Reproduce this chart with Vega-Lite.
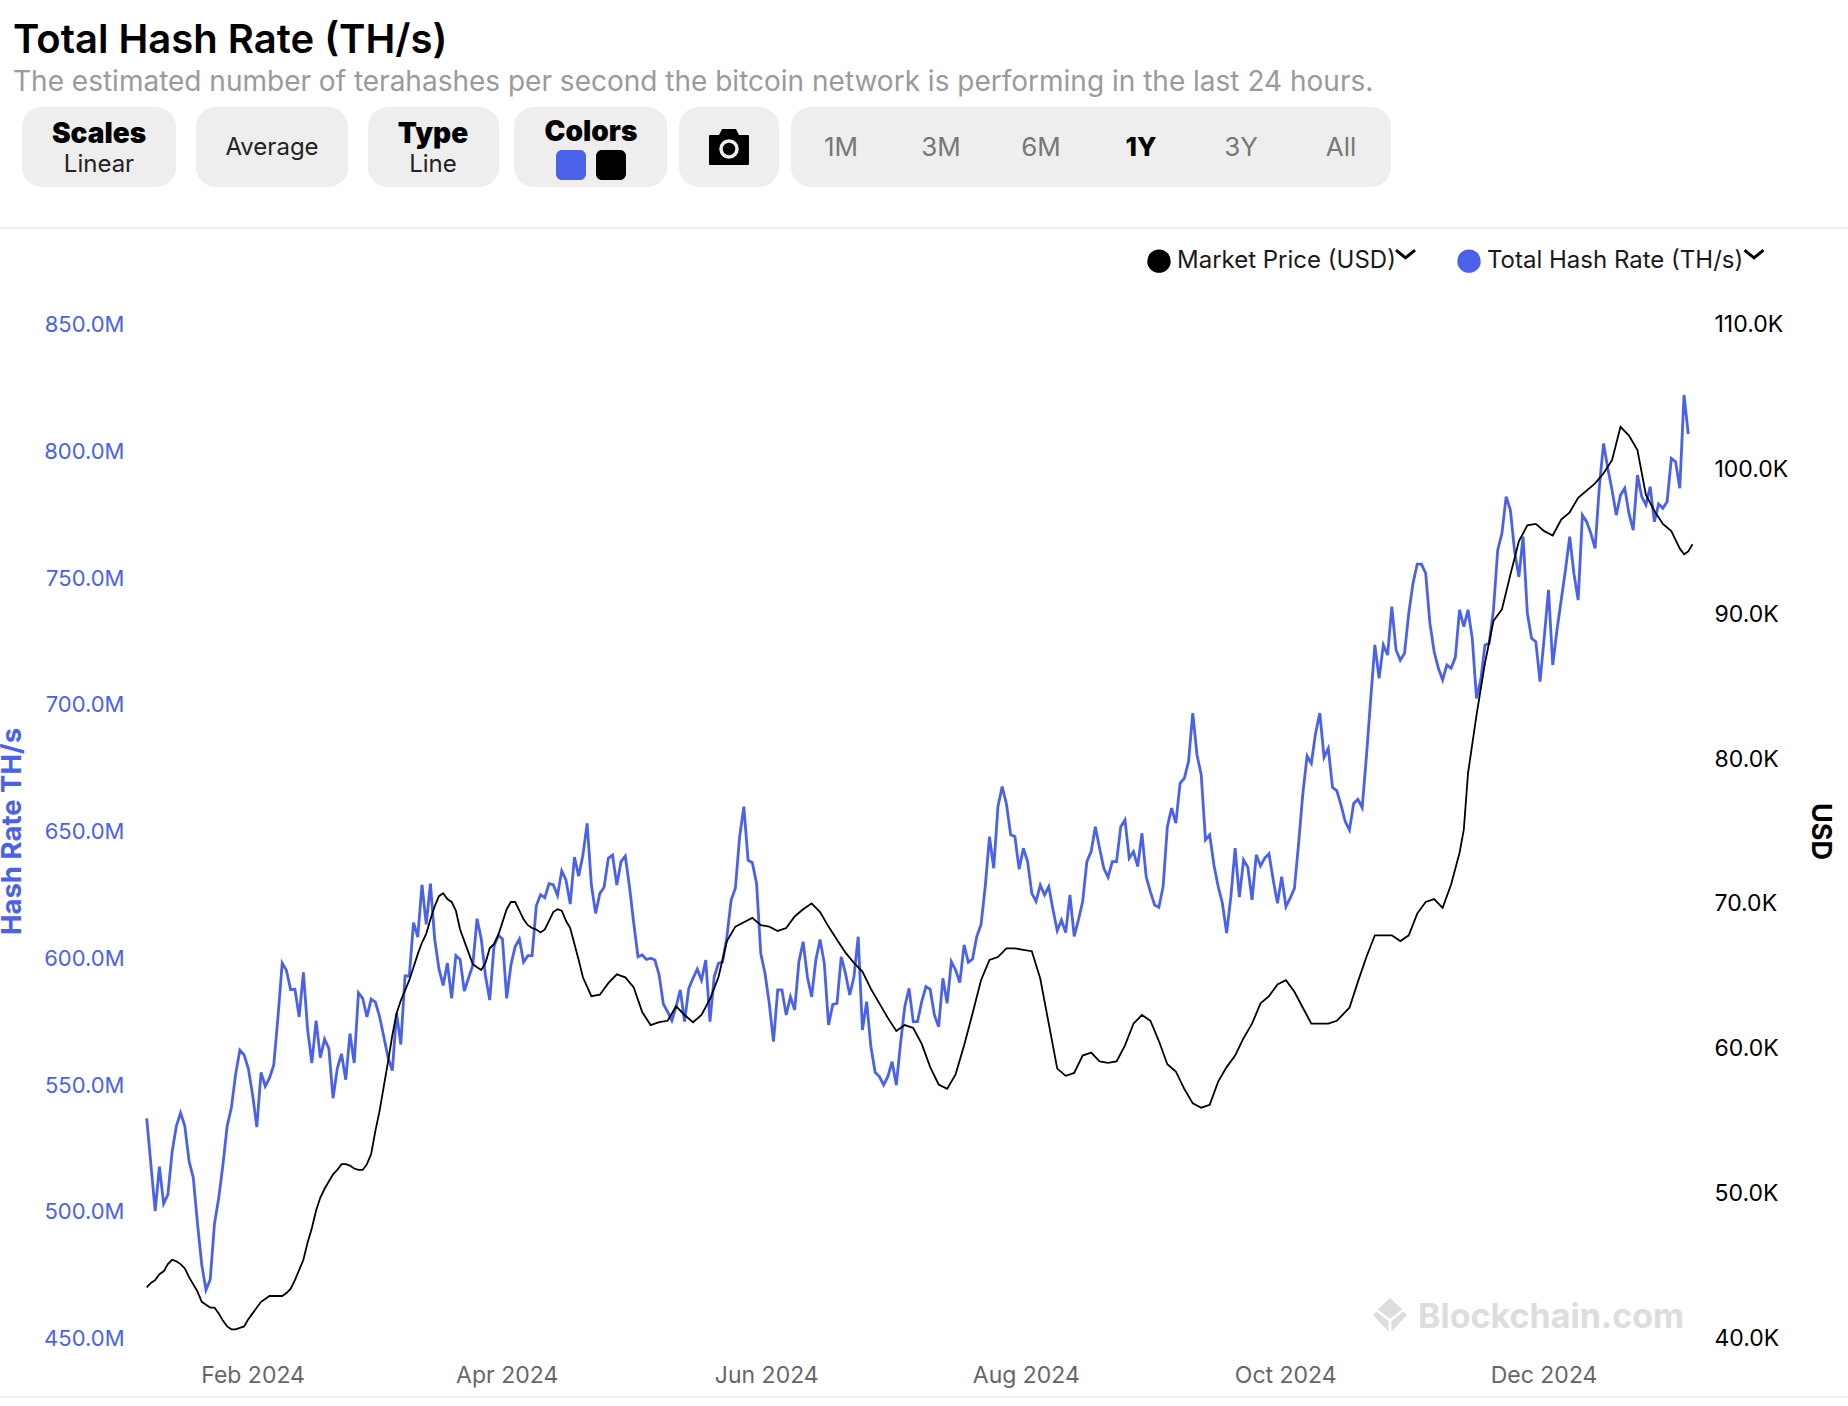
{"$schema":"https://vega.github.io/schema/vega-lite/v6.json","width":1848,"height":1406,"autosize":{"type":"none"},"padding":0,"background":"#ffffff",
"title":{"text":"Total Hash Rate (TH/s)","subtitle":"The estimated number of terahashes per second the bitcoin network is performing in the last 24 hours.","anchor":"start","frame":"group","dx":13,"offset":-97,"font":"Inter","fontSize":40,"fontWeight":600,"color":"#000000","subtitleFont":"Inter","subtitleFontSize":28,"subtitleColor":"#9a9a9a","subtitlePadding":8},
"config":{"view":{"stroke":null},"axis":{"grid":false,"domain":false,"ticks":false,"labelFont":"Inter","labelFontSize":22,"labelOverlap":false,"labelBound":false,"labelFlush":false,"labelPadding":0}},
"resolve":{"scale":{"x":"independent","y":"independent"},"axis":{"x":"independent","y":"independent"}},
"datasets":{"hashRate":[
{"date":"2024-01-07","hashRate":536600000},{"date":"2024-01-08","hashRate":518300000},{"date":"2024-01-09","hashRate":500100000},{"date":"2024-01-10","hashRate":517600000},{"date":"2024-01-11","hashRate":503000000},{"date":"2024-01-12","hashRate":506600000},{"date":"2024-01-13","hashRate":523400000},{"date":"2024-01-14","hashRate":533600000},{"date":"2024-01-15","hashRate":538800000},{"date":"2024-01-16","hashRate":533600000},{"date":"2024-01-17","hashRate":519800000},{"date":"2024-01-18","hashRate":513200000},{"date":"2024-01-19","hashRate":495000000},{"date":"2024-01-20","hashRate":478900000},{"date":"2024-01-21","hashRate":469000000},{"date":"2024-01-22","hashRate":473100000},{"date":"2024-01-23","hashRate":495000000},{"date":"2024-01-24","hashRate":505200000},{"date":"2024-01-25","hashRate":518300000},{"date":"2024-01-26","hashRate":533600000},{"date":"2024-01-27","hashRate":540900000},{"date":"2024-01-28","hashRate":554100000},{"date":"2024-01-29","hashRate":563600000},{"date":"2024-01-30","hashRate":561700000},{"date":"2024-01-31","hashRate":556300000},
{"date":"2024-02-01","hashRate":546000000},{"date":"2024-02-02","hashRate":533200000},{"date":"2024-02-03","hashRate":554800000},{"date":"2024-02-04","hashRate":549300000},{"date":"2024-02-05","hashRate":552600000},{"date":"2024-02-06","hashRate":557700000},{"date":"2024-02-07","hashRate":576700000},{"date":"2024-02-08","hashRate":597900000},{"date":"2024-02-09","hashRate":595000000},{"date":"2024-02-10","hashRate":587400000},{"date":"2024-02-11","hashRate":587600000},{"date":"2024-02-12","hashRate":576700000},{"date":"2024-02-13","hashRate":594200000},{"date":"2024-02-14","hashRate":571600000},{"date":"2024-02-15","hashRate":558500000},{"date":"2024-02-16","hashRate":575200000},{"date":"2024-02-17","hashRate":560600000},{"date":"2024-02-18","hashRate":567900000},{"date":"2024-02-19","hashRate":564300000},{"date":"2024-02-20","hashRate":544600000},{"date":"2024-02-21","hashRate":556300000},{"date":"2024-02-22","hashRate":562100000},{"date":"2024-02-23","hashRate":551900000},{"date":"2024-02-24","hashRate":570100000},{"date":"2024-02-25","hashRate":558500000},{"date":"2024-02-26","hashRate":586200000},{"date":"2024-02-27","hashRate":584000000},{"date":"2024-02-28","hashRate":576700000},{"date":"2024-02-29","hashRate":583700000},
{"date":"2024-03-01","hashRate":582500000},{"date":"2024-03-02","hashRate":576700000},{"date":"2024-03-03","hashRate":568700000},{"date":"2024-03-04","hashRate":560600000},{"date":"2024-03-05","hashRate":555500000},{"date":"2024-03-06","hashRate":578200000},{"date":"2024-03-07","hashRate":565800000},{"date":"2024-03-08","hashRate":592800000},{"date":"2024-03-09","hashRate":592800000},{"date":"2024-03-10","hashRate":613900000},{"date":"2024-03-11","hashRate":608100000},{"date":"2024-03-12","hashRate":628800000},{"date":"2024-03-13","hashRate":613200000},{"date":"2024-03-14","hashRate":629200000},{"date":"2024-03-15","hashRate":607400000},{"date":"2024-03-16","hashRate":595700000},{"date":"2024-03-17","hashRate":589100000},{"date":"2024-03-18","hashRate":597900000},{"date":"2024-03-19","hashRate":584000000},{"date":"2024-03-20","hashRate":600800000},{"date":"2024-03-21","hashRate":599300000},{"date":"2024-03-22","hashRate":586900000},{"date":"2024-03-23","hashRate":592000000},{"date":"2024-03-24","hashRate":597100000},{"date":"2024-03-25","hashRate":615400000},{"date":"2024-03-26","hashRate":607400000},{"date":"2024-03-27","hashRate":592800000},{"date":"2024-03-28","hashRate":583300000},{"date":"2024-03-29","hashRate":604400000},{"date":"2024-03-30","hashRate":608800000},{"date":"2024-03-31","hashRate":607400000},
{"date":"2024-04-01","hashRate":584000000},{"date":"2024-04-02","hashRate":597100000},{"date":"2024-04-03","hashRate":604400000},{"date":"2024-04-04","hashRate":607400000},{"date":"2024-04-05","hashRate":598300000},{"date":"2024-04-06","hashRate":600800000},{"date":"2024-04-07","hashRate":600800000},{"date":"2024-04-08","hashRate":620500000},{"date":"2024-04-09","hashRate":624900000},{"date":"2024-04-10","hashRate":623700000},{"date":"2024-04-11","hashRate":629200000},{"date":"2024-04-12","hashRate":628800000},{"date":"2024-04-13","hashRate":624600000},{"date":"2024-04-14","hashRate":634300000},{"date":"2024-04-15","hashRate":630700000},{"date":"2024-04-16","hashRate":621200000},{"date":"2024-04-17","hashRate":639700000},{"date":"2024-04-18","hashRate":632200000},{"date":"2024-04-19","hashRate":640500000},{"date":"2024-04-20","hashRate":653000000},{"date":"2024-04-21","hashRate":628700000},{"date":"2024-04-22","hashRate":617500000},{"date":"2024-04-23","hashRate":625400000},{"date":"2024-04-24","hashRate":627800000},{"date":"2024-04-25","hashRate":639200000},{"date":"2024-04-26","hashRate":640500000},{"date":"2024-04-27","hashRate":628700000},{"date":"2024-04-28","hashRate":637900000},{"date":"2024-04-29","hashRate":640100000},{"date":"2024-04-30","hashRate":628000000},
{"date":"2024-05-01","hashRate":613600000},{"date":"2024-05-02","hashRate":600400000},{"date":"2024-05-03","hashRate":601100000},{"date":"2024-05-04","hashRate":599300000},{"date":"2024-05-05","hashRate":599800000},{"date":"2024-05-06","hashRate":599100000},{"date":"2024-05-07","hashRate":593200000},{"date":"2024-05-08","hashRate":581700000},{"date":"2024-05-09","hashRate":578700000},{"date":"2024-05-10","hashRate":575200000},{"date":"2024-05-11","hashRate":580700000},{"date":"2024-05-12","hashRate":587300000},{"date":"2024-05-13","hashRate":574800000},{"date":"2024-05-14","hashRate":587900000},{"date":"2024-05-15","hashRate":591900000},{"date":"2024-05-16","hashRate":595500000},{"date":"2024-05-17","hashRate":591200000},{"date":"2024-05-18","hashRate":599100000},{"date":"2024-05-19","hashRate":574800000},{"date":"2024-05-20","hashRate":592500000},{"date":"2024-05-21","hashRate":597800000},{"date":"2024-05-22","hashRate":598400000},{"date":"2024-05-23","hashRate":608300000},{"date":"2024-05-24","hashRate":622800000},{"date":"2024-05-25","hashRate":627400000},{"date":"2024-05-26","hashRate":647700000},{"date":"2024-05-27","hashRate":659600000},{"date":"2024-05-28","hashRate":638500000},{"date":"2024-05-29","hashRate":637500000},{"date":"2024-05-30","hashRate":629300000},{"date":"2024-05-31","hashRate":601700000},
{"date":"2024-06-01","hashRate":593800000},{"date":"2024-06-02","hashRate":582000000},{"date":"2024-06-03","hashRate":566900000},{"date":"2024-06-04","hashRate":587300000},{"date":"2024-06-05","hashRate":587300000},{"date":"2024-06-06","hashRate":577400000},{"date":"2024-06-07","hashRate":584600000},{"date":"2024-06-08","hashRate":579400000},{"date":"2024-06-09","hashRate":598400000},{"date":"2024-06-10","hashRate":606300000},{"date":"2024-06-11","hashRate":592500000},{"date":"2024-06-12","hashRate":584600000},{"date":"2024-06-13","hashRate":599100000},{"date":"2024-06-14","hashRate":607200000},{"date":"2024-06-15","hashRate":597800000},{"date":"2024-06-16","hashRate":573500000},{"date":"2024-06-17","hashRate":581600000},{"date":"2024-06-18","hashRate":582000000},{"date":"2024-06-19","hashRate":600400000},{"date":"2024-06-20","hashRate":593800000},{"date":"2024-06-21","hashRate":585300000},{"date":"2024-06-22","hashRate":592500000},{"date":"2024-06-23","hashRate":608300000},{"date":"2024-06-24","hashRate":571500000},{"date":"2024-06-25","hashRate":582700000},{"date":"2024-06-26","hashRate":564900000},{"date":"2024-06-27","hashRate":554800000},{"date":"2024-06-28","hashRate":553100000},{"date":"2024-06-29","hashRate":549800000},{"date":"2024-06-30","hashRate":553100000},
{"date":"2024-07-01","hashRate":559000000},{"date":"2024-07-02","hashRate":549800000},{"date":"2024-07-03","hashRate":566200000},{"date":"2024-07-04","hashRate":580700000},{"date":"2024-07-05","hashRate":587900000},{"date":"2024-07-06","hashRate":574800000},{"date":"2024-07-07","hashRate":574800000},{"date":"2024-07-08","hashRate":582700000},{"date":"2024-07-09","hashRate":588600000},{"date":"2024-07-10","hashRate":587500000},{"date":"2024-07-11","hashRate":577400000},{"date":"2024-07-12","hashRate":572800000},{"date":"2024-07-13","hashRate":591900000},{"date":"2024-07-14","hashRate":582000000},{"date":"2024-07-15","hashRate":598500000},{"date":"2024-07-16","hashRate":595200000},{"date":"2024-07-17","hashRate":590200000},{"date":"2024-07-18","hashRate":605100000},{"date":"2024-07-19","hashRate":598200000},{"date":"2024-07-20","hashRate":599500000},{"date":"2024-07-21","hashRate":608400000},{"date":"2024-07-22","hashRate":613000000},{"date":"2024-07-23","hashRate":628100000},{"date":"2024-07-24","hashRate":647800000},{"date":"2024-07-25","hashRate":635300000},{"date":"2024-07-26","hashRate":659600000},{"date":"2024-07-27","hashRate":667500000},{"date":"2024-07-28","hashRate":660700000},{"date":"2024-07-29","hashRate":648500000},{"date":"2024-07-30","hashRate":647800000},{"date":"2024-07-31","hashRate":634900000},
{"date":"2024-08-01","hashRate":643200000},{"date":"2024-08-02","hashRate":637900000},{"date":"2024-08-03","hashRate":625400000},{"date":"2024-08-04","hashRate":622200000},{"date":"2024-08-05","hashRate":628700000},{"date":"2024-08-06","hashRate":624800000},{"date":"2024-08-07","hashRate":628100000},{"date":"2024-08-08","hashRate":618900000},{"date":"2024-08-09","hashRate":610700000},{"date":"2024-08-10","hashRate":614900000},{"date":"2024-08-11","hashRate":609900000},{"date":"2024-08-12","hashRate":624800000},{"date":"2024-08-13","hashRate":608400000},{"date":"2024-08-14","hashRate":614900000},{"date":"2024-08-15","hashRate":622200000},{"date":"2024-08-16","hashRate":637900000},{"date":"2024-08-17","hashRate":641900000},{"date":"2024-08-18","hashRate":651700000},{"date":"2024-08-19","hashRate":643200000},{"date":"2024-08-20","hashRate":635300000},{"date":"2024-08-21","hashRate":631800000},{"date":"2024-08-22","hashRate":637900000},{"date":"2024-08-23","hashRate":637900000},{"date":"2024-08-24","hashRate":651700000},{"date":"2024-08-25","hashRate":654400000},{"date":"2024-08-26","hashRate":639300000},{"date":"2024-08-27","hashRate":641900000},{"date":"2024-08-28","hashRate":636000000},{"date":"2024-08-29","hashRate":649100000},{"date":"2024-08-30","hashRate":632000000},{"date":"2024-08-31","hashRate":626000000},
{"date":"2024-09-01","hashRate":620800000},{"date":"2024-09-02","hashRate":619900000},{"date":"2024-09-03","hashRate":628100000},{"date":"2024-09-04","hashRate":651700000},{"date":"2024-09-05","hashRate":659000000},{"date":"2024-09-06","hashRate":653100000},{"date":"2024-09-07","hashRate":668800000},{"date":"2024-09-08","hashRate":670800000},{"date":"2024-09-09","hashRate":677400000},{"date":"2024-09-10","hashRate":696500000},{"date":"2024-09-11","hashRate":680000000},{"date":"2024-09-12","hashRate":672100000},{"date":"2024-09-13","hashRate":646500000},{"date":"2024-09-14","hashRate":648500000},{"date":"2024-09-15","hashRate":636600000},{"date":"2024-09-16","hashRate":628100000},{"date":"2024-09-17","hashRate":621500000},{"date":"2024-09-18","hashRate":609700000},{"date":"2024-09-19","hashRate":624100000},{"date":"2024-09-20","hashRate":643200000},{"date":"2024-09-21","hashRate":623900000},{"date":"2024-09-22","hashRate":638600000},{"date":"2024-09-23","hashRate":635700000},{"date":"2024-09-24","hashRate":622800000},{"date":"2024-09-25","hashRate":640600000},{"date":"2024-09-26","hashRate":636200000},{"date":"2024-09-27","hashRate":639300000},{"date":"2024-09-28","hashRate":641000000},{"date":"2024-09-29","hashRate":630700000},{"date":"2024-09-30","hashRate":621500000},
{"date":"2024-10-01","hashRate":632000000},{"date":"2024-10-02","hashRate":620200000},{"date":"2024-10-03","hashRate":623500000},{"date":"2024-10-04","hashRate":627400000},{"date":"2024-10-05","hashRate":645200000},{"date":"2024-10-06","hashRate":664900000},{"date":"2024-10-07","hashRate":679600000},{"date":"2024-10-08","hashRate":676700000},{"date":"2024-10-09","hashRate":688600000},{"date":"2024-10-10","hashRate":696500000},{"date":"2024-10-11","hashRate":679100000},{"date":"2024-10-12","hashRate":682600000},{"date":"2024-10-13","hashRate":667200000},{"date":"2024-10-14","hashRate":665900000},{"date":"2024-10-15","hashRate":660300000},{"date":"2024-10-16","hashRate":653700000},{"date":"2024-10-17","hashRate":650400000},{"date":"2024-10-18","hashRate":660900000},{"date":"2024-10-19","hashRate":662500000},{"date":"2024-10-20","hashRate":659200000},{"date":"2024-10-21","hashRate":679300000},{"date":"2024-10-22","hashRate":701700000},{"date":"2024-10-23","hashRate":723400000},{"date":"2024-10-24","hashRate":710200000},{"date":"2024-10-25","hashRate":723400000},{"date":"2024-10-26","hashRate":719400000},{"date":"2024-10-27","hashRate":738500000},{"date":"2024-10-28","hashRate":721400000},{"date":"2024-10-29","hashRate":717400000},{"date":"2024-10-30","hashRate":720100000},{"date":"2024-10-31","hashRate":735900000},
{"date":"2024-11-01","hashRate":747700000},{"date":"2024-11-02","hashRate":755300000},{"date":"2024-11-03","hashRate":755300000},{"date":"2024-11-04","hashRate":751600000},{"date":"2024-11-05","hashRate":731900000},{"date":"2024-11-06","hashRate":720700000},{"date":"2024-11-07","hashRate":714200000},{"date":"2024-11-08","hashRate":709600000},{"date":"2024-11-09","hashRate":715500000},{"date":"2024-11-10","hashRate":714200000},{"date":"2024-11-11","hashRate":718500000},{"date":"2024-11-12","hashRate":737200000},{"date":"2024-11-13","hashRate":730600000},{"date":"2024-11-14","hashRate":737200000},{"date":"2024-11-15","hashRate":726000000},{"date":"2024-11-16","hashRate":702300000},{"date":"2024-11-17","hashRate":709600000},{"date":"2024-11-18","hashRate":723400000},{"date":"2024-11-19","hashRate":724000000},{"date":"2024-11-20","hashRate":737200000},{"date":"2024-11-21","hashRate":760800000},{"date":"2024-11-22","hashRate":767400000},{"date":"2024-11-23","hashRate":781900000},{"date":"2024-11-24","hashRate":776600000},{"date":"2024-11-25","hashRate":760200000},{"date":"2024-11-26","hashRate":750300000},{"date":"2024-11-27","hashRate":766100000},{"date":"2024-11-28","hashRate":735900000},{"date":"2024-11-29","hashRate":726000000},{"date":"2024-11-30","hashRate":724700000},
{"date":"2024-12-01","hashRate":708900000},{"date":"2024-12-02","hashRate":726600000},{"date":"2024-12-03","hashRate":745100000},{"date":"2024-12-04","hashRate":715500000},{"date":"2024-12-05","hashRate":729300000},{"date":"2024-12-06","hashRate":741100000},{"date":"2024-12-07","hashRate":752900000},{"date":"2024-12-08","hashRate":766100000},{"date":"2024-12-09","hashRate":751600000},{"date":"2024-12-10","hashRate":741100000},{"date":"2024-12-11","hashRate":774600000},{"date":"2024-12-12","hashRate":772000000},{"date":"2024-12-13","hashRate":767400000},{"date":"2024-12-14","hashRate":761500000},{"date":"2024-12-15","hashRate":785800000},{"date":"2024-12-16","hashRate":802900000},{"date":"2024-12-17","hashRate":793100000},{"date":"2024-12-18","hashRate":784500000},{"date":"2024-12-19","hashRate":774600000},{"date":"2024-12-20","hashRate":782500000},{"date":"2024-12-21","hashRate":785200000},{"date":"2024-12-22","hashRate":775300000},{"date":"2024-12-23","hashRate":768700000},{"date":"2024-12-24","hashRate":790400000},{"date":"2024-12-25","hashRate":781900000},{"date":"2024-12-26","hashRate":778600000},{"date":"2024-12-27","hashRate":785800000},{"date":"2024-12-28","hashRate":772000000},{"date":"2024-12-29","hashRate":779000000},{"date":"2024-12-30","hashRate":777300000},{"date":"2024-12-31","hashRate":779900000},
{"date":"2025-01-01","hashRate":797000000},{"date":"2025-01-02","hashRate":795700000},{"date":"2025-01-03","hashRate":785200000},{"date":"2025-01-04","hashRate":822000000},{"date":"2025-01-05","hashRate":806600000}],
"marketPrice":[
{"date":"2024-01-07","price":43500},{"date":"2024-01-08","price":43800},{"date":"2024-01-09","price":44000},{"date":"2024-01-10","price":44400},{"date":"2024-01-11","price":44600},{"date":"2024-01-12","price":45100},{"date":"2024-01-13","price":45400},{"date":"2024-01-14","price":45300},{"date":"2024-01-15","price":45100},{"date":"2024-01-16","price":44800},{"date":"2024-01-17","price":44200},{"date":"2024-01-18","price":43700},{"date":"2024-01-19","price":43200},{"date":"2024-01-20","price":42500},{"date":"2024-01-21","price":42300},{"date":"2024-01-22","price":42100},{"date":"2024-01-23","price":42100},{"date":"2024-01-24","price":41700},{"date":"2024-01-25","price":41200},{"date":"2024-01-26","price":40800},{"date":"2024-01-27","price":40600},{"date":"2024-01-28","price":40600},{"date":"2024-01-29","price":40700},{"date":"2024-01-30","price":40800},{"date":"2024-01-31","price":41300},
{"date":"2024-02-01","price":41700},{"date":"2024-02-02","price":42100},{"date":"2024-02-03","price":42500},{"date":"2024-02-04","price":42700},{"date":"2024-02-05","price":42900},{"date":"2024-02-06","price":42900},{"date":"2024-02-07","price":42900},{"date":"2024-02-08","price":42900},{"date":"2024-02-09","price":43100},{"date":"2024-02-10","price":43400},{"date":"2024-02-11","price":44000},{"date":"2024-02-12","price":44700},{"date":"2024-02-13","price":45400},{"date":"2024-02-14","price":46600},{"date":"2024-02-15","price":47600},{"date":"2024-02-16","price":48800},{"date":"2024-02-17","price":49700},{"date":"2024-02-18","price":50300},{"date":"2024-02-19","price":50800},{"date":"2024-02-20","price":51300},{"date":"2024-02-21","price":51600},{"date":"2024-02-22","price":52000},{"date":"2024-02-23","price":52000},{"date":"2024-02-24","price":51900},{"date":"2024-02-25","price":51700},{"date":"2024-02-26","price":51600},{"date":"2024-02-27","price":51600},{"date":"2024-02-28","price":52000},{"date":"2024-02-29","price":52700},
{"date":"2024-03-01","price":54300},{"date":"2024-03-02","price":55700},{"date":"2024-03-03","price":57400},{"date":"2024-03-04","price":59100},{"date":"2024-03-05","price":60900},{"date":"2024-03-06","price":62400},{"date":"2024-03-07","price":63300},{"date":"2024-03-08","price":64000},{"date":"2024-03-09","price":64700},{"date":"2024-03-10","price":65600},{"date":"2024-03-11","price":66500},{"date":"2024-03-12","price":67300},{"date":"2024-03-13","price":67900},{"date":"2024-03-14","price":68900},{"date":"2024-03-15","price":69800},{"date":"2024-03-16","price":70500},{"date":"2024-03-17","price":70700},{"date":"2024-03-18","price":70300},{"date":"2024-03-19","price":70100},{"date":"2024-03-20","price":69500},{"date":"2024-03-21","price":68200},{"date":"2024-03-22","price":67400},{"date":"2024-03-23","price":66600},{"date":"2024-03-24","price":65800},{"date":"2024-03-25","price":65600},{"date":"2024-03-26","price":65400},{"date":"2024-03-27","price":65900},{"date":"2024-03-28","price":66900},{"date":"2024-03-29","price":67200},{"date":"2024-03-30","price":67800},{"date":"2024-03-31","price":68700},
{"date":"2024-04-01","price":69600},{"date":"2024-04-02","price":70100},{"date":"2024-04-03","price":70100},{"date":"2024-04-04","price":69500},{"date":"2024-04-05","price":68900},{"date":"2024-04-06","price":68500},{"date":"2024-04-07","price":68300},{"date":"2024-04-08","price":68200},{"date":"2024-04-09","price":68000},{"date":"2024-04-10","price":68200},{"date":"2024-04-11","price":68800},{"date":"2024-04-12","price":69400},{"date":"2024-04-13","price":69600},{"date":"2024-04-14","price":69500},{"date":"2024-04-15","price":68800},{"date":"2024-04-16","price":68300},{"date":"2024-04-17","price":67200},{"date":"2024-04-18","price":66100},
{"date":"2024-04-19","price":64900},{"date":"2024-04-21","price":63600},{"date":"2024-04-23","price":63700},{"date":"2024-04-25","price":64500},{"date":"2024-04-27","price":65100},{"date":"2024-04-29","price":64900},{"date":"2024-05-01","price":64200},{"date":"2024-05-03","price":62500},{"date":"2024-05-05","price":61600},{"date":"2024-05-07","price":61800},{"date":"2024-05-09","price":61900},{"date":"2024-05-11","price":62900},{"date":"2024-05-13","price":62300},{"date":"2024-05-15","price":61800},{"date":"2024-05-17","price":62300},{"date":"2024-05-19","price":63400},{"date":"2024-05-21","price":64900},{"date":"2024-05-23","price":67400},{"date":"2024-05-25","price":68400},{"date":"2024-05-27","price":68700},{"date":"2024-05-29","price":69000},{"date":"2024-05-31","price":68500},{"date":"2024-06-02","price":68400},{"date":"2024-06-04","price":68100},{"date":"2024-06-06","price":68300},{"date":"2024-06-08","price":69100},{"date":"2024-06-10","price":69600},{"date":"2024-06-12","price":70000},{"date":"2024-06-14","price":69400},{"date":"2024-06-16","price":68400},{"date":"2024-06-18","price":67500},{"date":"2024-06-20","price":66600},{"date":"2024-06-22","price":65900},{"date":"2024-06-24","price":65300},{"date":"2024-06-26","price":64100},{"date":"2024-06-28","price":63100},{"date":"2024-06-30","price":62100},{"date":"2024-07-02","price":61200},{"date":"2024-07-04","price":61600},{"date":"2024-07-06","price":61400},{"date":"2024-07-08","price":60300},{"date":"2024-07-10","price":58700},{"date":"2024-07-12","price":57500},{"date":"2024-07-14","price":57200},
{"date":"2024-07-16","price":58200},{"date":"2024-07-18","price":60200},{"date":"2024-07-20","price":62400},{"date":"2024-07-22","price":64700},{"date":"2024-07-24","price":66100},{"date":"2024-07-26","price":66300},{"date":"2024-07-28","price":66900},{"date":"2024-07-30","price":66900},{"date":"2024-08-01","price":66800},{"date":"2024-08-03","price":66700},{"date":"2024-08-05","price":64800},{"date":"2024-08-07","price":61700},{"date":"2024-08-09","price":58600},{"date":"2024-08-11","price":58100},{"date":"2024-08-13","price":58300},{"date":"2024-08-15","price":59500},{"date":"2024-08-17","price":59700},{"date":"2024-08-19","price":59100},{"date":"2024-08-21","price":59000},{"date":"2024-08-23","price":59100},{"date":"2024-08-25","price":60200},{"date":"2024-08-27","price":61700},{"date":"2024-08-29","price":62300},{"date":"2024-08-31","price":61900},{"date":"2024-09-02","price":60500},{"date":"2024-09-04","price":58900},{"date":"2024-09-06","price":58400},{"date":"2024-09-08","price":57200},{"date":"2024-09-10","price":56200},{"date":"2024-09-12","price":55900},{"date":"2024-09-14","price":56100},{"date":"2024-09-16","price":57700},{"date":"2024-09-18","price":58700},{"date":"2024-09-20","price":59500},{"date":"2024-09-22","price":60700},{"date":"2024-09-24","price":61700},{"date":"2024-09-26","price":63100},{"date":"2024-09-28","price":63600},{"date":"2024-09-30","price":64400},{"date":"2024-10-02","price":64700},{"date":"2024-10-04","price":63900},{"date":"2024-10-06","price":62800},{"date":"2024-10-08","price":61700},{"date":"2024-10-10","price":61700},{"date":"2024-10-12","price":61700},{"date":"2024-10-14","price":61900},{"date":"2024-10-17","price":62800},{"date":"2024-10-19","price":64600},{"date":"2024-10-21","price":66300},{"date":"2024-10-23","price":67800},{"date":"2024-10-25","price":67800},{"date":"2024-10-27","price":67800},{"date":"2024-10-29","price":67400},{"date":"2024-10-31","price":67800},{"date":"2024-11-02","price":69300},{"date":"2024-11-04","price":70100},{"date":"2024-11-06","price":70300},{"date":"2024-11-08","price":69700},{"date":"2024-11-10","price":71300},{"date":"2024-11-12","price":73500},{"date":"2024-11-13","price":75100},{"date":"2024-11-14","price":79000},{"date":"2024-11-16","price":83000},{"date":"2024-11-18","price":86600},{"date":"2024-11-20","price":89500},{"date":"2024-11-22","price":90300},{"date":"2024-11-24","price":92700},{"date":"2024-11-26","price":95000},{"date":"2024-11-28","price":96100},{"date":"2024-11-30","price":96200},{"date":"2024-12-02","price":95700},{"date":"2024-12-04","price":95400},{"date":"2024-12-06","price":96500},{"date":"2024-12-08","price":97000},{"date":"2024-12-10","price":98000},{"date":"2024-12-12","price":98500},{"date":"2024-12-14","price":99000},{"date":"2024-12-16","price":99700},{"date":"2024-12-18","price":100600},{"date":"2024-12-20","price":102900},{"date":"2024-12-22","price":102300},{"date":"2024-12-24","price":101300},{"date":"2024-12-26","price":98200},{"date":"2024-12-28","price":97100},{"date":"2024-12-30","price":96200},{"date":"2025-01-01","price":95700},{"date":"2025-01-03","price":94500},{"date":"2025-01-04","price":94100},{"date":"2025-01-05","price":94300},{"date":"2025-01-06","price":94800}]},
"layer":[
{"data":{"values":[{"divider":"header","row":0},{"divider":"footer","row":1}]},"mark":{"type":"rule","color":"#eeeeee","strokeWidth":2},"encoding":{"y":{"field":"row","type":"quantitative","axis":null,"scale":{"domain":[0,1],"range":[228,1397],"nice":false,"zero":false}}}},
{"data":{"values":[{"control":"Scales","start":0,"end":1,"top":0,"bottom":1},{"control":"Average","start":2,"end":3,"top":0,"bottom":1},{"control":"Type","start":4,"end":5,"top":0,"bottom":1},{"control":"Colors","start":6,"end":7,"top":0,"bottom":1},{"control":"Snapshot","start":8,"end":9,"top":0,"bottom":1},{"control":"Range","start":10,"end":11,"top":0,"bottom":1}]},"mark":{"type":"rect","fill":"#eeeeee","cornerRadius":20},"encoding":{"x":{"field":"start","type":"quantitative","axis":null,"scale":{"domain":[0,1,2,3,4,5,6,7,8,9,10,11],"range":[22,176,196,348,368,499,514,667,679,779,791,1391],"nice":false,"zero":false}},"x2":{"field":"end"},"y":{"field":"top","type":"quantitative","axis":null,"scale":{"domain":[0,1],"range":[107,187],"nice":false,"zero":false}},"y2":{"field":"bottom"}}},
{"data":{"values":[{"swatch":"Hash rate colour","start":0,"end":1,"top":0,"bottom":1}]},"mark":{"type":"rect","fill":"#4a62ea","cornerRadius":6},"encoding":{"x":{"field":"start","type":"quantitative","axis":null,"scale":{"domain":[0,1],"range":[556,586],"nice":false,"zero":false}},"x2":{"field":"end"},"y":{"field":"top","type":"quantitative","axis":null,"scale":{"domain":[0,1],"range":[150,180],"nice":false,"zero":false}},"y2":{"field":"bottom"}}},
{"data":{"values":[{"swatch":"Market price colour","start":0,"end":1,"top":0,"bottom":1}]},"mark":{"type":"rect","fill":"#000000","cornerRadius":6},"encoding":{"x":{"field":"start","type":"quantitative","axis":null,"scale":{"domain":[0,1],"range":[596,626],"nice":false,"zero":false}},"x2":{"field":"end"},"y":{"field":"top","type":"quantitative","axis":null,"scale":{"domain":[0,1],"range":[150,180],"nice":false,"zero":false}},"y2":{"field":"bottom"}}},
{"data":{"values":[{"label":"Scales","slot":0,"line":1},{"label":"Type","slot":1,"line":1},{"label":"Colors","slot":2,"line":0}]},"mark":{"type":"text","font":"Inter","fontSize":28,"fontWeight":900,"color":"#000000","baseline":"middle","align":"center"},"encoding":{"text":{"field":"label"},"x":{"field":"slot","type":"quantitative","axis":null,"scale":{"domain":[0,1,2],"range":[99,433,591],"nice":false,"zero":false}},"y":{"field":"line","type":"quantitative","axis":null,"scale":{"domain":[0,1],"range":[132.5,135],"nice":false,"zero":false}}}},
{"data":{"values":[{"label":"Linear","slot":0,"line":1},{"label":"Average","slot":1,"line":0},{"label":"Line","slot":2,"line":1}]},"mark":{"type":"text","font":"Inter","fontSize":24,"color":"#222222","baseline":"middle","align":"center"},"encoding":{"text":{"field":"label"},"x":{"field":"slot","type":"quantitative","axis":null,"scale":{"domain":[0,1,2],"range":[99,272,433],"nice":false,"zero":false}},"y":{"field":"line","type":"quantitative","axis":null,"scale":{"domain":[0,1],"range":[148,165],"nice":false,"zero":false}}}},
{"data":{"values":[{"label":"1M","slot":0,"line":0},{"label":"3M","slot":1,"line":0},{"label":"6M","slot":2,"line":0},{"label":"3Y","slot":3,"line":0},{"label":"All","slot":4,"line":0}]},"mark":{"type":"text","font":"Inter","fontSize":26,"color":"#777777","baseline":"middle","align":"center"},"encoding":{"text":{"field":"label"},"x":{"field":"slot","type":"quantitative","axis":null,"scale":{"domain":[0,1,2,3,4],"range":[841,941,1041,1241,1341],"nice":false,"zero":false}},"y":{"field":"line","type":"quantitative","axis":null,"scale":{"domain":[0,1],"range":[147.5,148.5],"nice":false,"zero":false}}}},
{"data":{"values":[{"label":"1Y","slot":0,"line":0}]},"mark":{"type":"text","font":"Inter","fontSize":26,"fontWeight":800,"color":"#000000","baseline":"middle","align":"center"},"encoding":{"text":{"field":"label"},"x":{"field":"slot","type":"quantitative","axis":null,"scale":{"domain":[0,1],"range":[1141,1142],"nice":false,"zero":false}},"y":{"field":"line","type":"quantitative","axis":null,"scale":{"domain":[0,1],"range":[147.5,148.5],"nice":false,"zero":false}}}},
{"data":{"values":[{"icon":"camera","slot":0,"line":0}]},"mark":{"type":"point","shape":"M-0.5,-0.6 L-0.35,-0.9 L0.35,-0.9 L0.5,-0.6 L0.95,-0.6 Q1,-0.6 1,-0.55 L1,0.85 Q1,0.9 0.95,0.9 L-0.95,0.9 Q-1,0.9 -1,0.85 L-1,-0.55 Q-1,-0.6 -0.95,-0.6 Z","size":1600,"filled":true,"fill":"#000000","opacity":1},"encoding":{"x":{"field":"slot","type":"quantitative","axis":null,"scale":{"domain":[0,1],"range":[729,730],"nice":false,"zero":false}},"y":{"field":"line","type":"quantitative","axis":null,"scale":{"domain":[0,1],"range":[147,148],"nice":false,"zero":false}}}},
{"data":{"values":[{"icon":"lens","slot":0,"line":0}]},"mark":{"type":"point","shape":"circle","size":256,"filled":false,"stroke":"#eeeeee","strokeWidth":3.5,"opacity":1},"encoding":{"x":{"field":"slot","type":"quantitative","axis":null,"scale":{"domain":[0,1],"range":[729,730],"nice":false,"zero":false}},"y":{"field":"line","type":"quantitative","axis":null,"scale":{"domain":[0,1],"range":[149,150],"nice":false,"zero":false}}}},
{"data":{"values":[{"icon":"legend chevron","slot":0,"line":0},{"icon":"legend chevron","slot":1,"line":0}]},"mark":{"type":"point","shape":"M-1,-0.4 L0,0.4 L1,-0.4","size":361,"filled":false,"stroke":"#000000","strokeWidth":3,"opacity":1},"encoding":{"x":{"field":"slot","type":"quantitative","axis":null,"scale":{"domain":[0,1],"range":[1405.5,1754],"nice":false,"zero":false}},"y":{"field":"line","type":"quantitative","axis":null,"scale":{"domain":[0,1],"range":[254,255],"nice":false,"zero":false}}}},
{"data":{"values":[{"label":"Blockchain.com","slot":0,"line":0}]},"mark":{"type":"text","font":"Inter","fontSize":34,"fontWeight":700,"color":"#dddddd","baseline":"middle","align":"left"},"encoding":{"text":{"field":"label"},"x":{"field":"slot","type":"quantitative","axis":null,"scale":{"domain":[0,1],"range":[1418,1419],"nice":false,"zero":false}},"y":{"field":"line","type":"quantitative","axis":null,"scale":{"domain":[0,1],"range":[1318,1319],"nice":false,"zero":false}}}},
{"data":{"values":[{"icon":"watermark","slot":0,"line":0}]},"mark":{"type":"point","shape":"M0,-1 L0.72,-0.32 L0,0.22 L-0.72,-0.32 Z M-1,0 L-0.8,-0.2 L-0.08,0.36 L-0.08,1 Z M1,0 L0.8,-0.2 L0.08,0.36 L0.08,1 Z","size":1156,"filled":true,"fill":"#dddddd","opacity":1},"encoding":{"x":{"field":"slot","type":"quantitative","axis":null,"scale":{"domain":[0,1],"range":[1390,1391],"nice":false,"zero":false}},"y":{"field":"line","type":"quantitative","axis":null,"scale":{"domain":[0,1],"range":[1315,1316],"nice":false,"zero":false}}}},
{"data":{"name":"hashRate"},"mark":{"type":"line","strokeWidth":2.8,"interpolate":"linear"},"encoding":{
"x":{"field":"date","type":"temporal","title":null,"scale":{"type":"utc","domain":[{"year":2024,"month":1,"date":7,"utc":true},{"year":2025,"month":1,"date":6,"utc":true}],"range":[146.7,1692.5],"nice":false},"axis":{"orient":"bottom","offset":-42,"labelColor":"#666666","labelFontSize":23,"labelExpr":"utcFormat(datum.value,'%b %Y')","values":[{"year":2024,"month":2,"date":1,"utc":true},{"year":2024,"month":4,"date":1,"utc":true},{"year":2024,"month":6,"date":1,"hours":7,"utc":true},{"year":2024,"month":8,"date":1,"hours":14,"utc":true},{"year":2024,"month":10,"date":1,"hours":20,"utc":true},{"year":2024,"month":12,"date":1,"hours":20,"utc":true}]}},
"y":{"field":"hashRate","type":"quantitative","scale":{"domain":[450000000,850000000],"range":[1338,324],"nice":false,"zero":false},"axis":{"orient":"left","offset":-124,"title":"Hash Rate TH/s","titleColor":"#4a62ea","titleFont":"Inter","titleFontSize":27.5,"titleFontWeight":700,"titleX":-98,"titleY":831,"labelColor":"#4a62ea","labelOffset":0.5,"values":[450000000,500000000,550000000,600000000,650000000,700000000,750000000,800000000,850000000],"labelExpr":"format(datum.value/1000000,'.1f')+'M'"}},
"color":{"datum":"Total Hash Rate (TH/s)","type":"nominal","scale":{"domain":["Market Price (USD)","Total Hash Rate (TH/s)"],"range":["#000000","#4a62ea"]},"legend":{"title":null,"orient":"none","legendX":1147,"legendY":249,"direction":"horizontal","columns":2,"columnPadding":58,"symbolType":"circle","symbolSize":460,"symbolStrokeWidth":2,"labelFont":"Inter","labelFontSize":24,"labelLimit":400,"labelColor":"#1a1a1a","labelOffset":6,"encode":{"symbols":{"update":{"fill":{"scale":"color","field":"value"},"stroke":{"value":"#999999"},"opacity":{"value":1}}}}}}}},
{"data":{"name":"marketPrice"},"mark":{"type":"line","strokeWidth":1.8,"interpolate":"linear"},"encoding":{
"x":{"field":"date","type":"temporal","axis":null,"scale":{"type":"utc","domain":[{"year":2024,"month":1,"date":7,"utc":true},{"year":2025,"month":1,"date":6,"utc":true}],"range":[146.7,1692.5],"nice":false}},
"y":{"field":"price","type":"quantitative","scale":{"domain":[40000,110000],"range":[1338,324],"nice":false,"zero":false},"axis":{"orient":"right","offset":-134,"title":"USD","titleColor":"#000000","titleFont":"Inter","titleFontSize":27,"titleFontWeight":700,"titleX":91,"titleY":831,"labelColor":"#000000","labelFontSize":23,"labelOffset":0.5,"values":[40000,50000,60000,70000,80000,90000,100000,110000],"labelExpr":"format(datum.value/1000,'.1f')+'K'"}},
"color":{"datum":"Market Price (USD)","type":"nominal","scale":{"domain":["Market Price (USD)","Total Hash Rate (TH/s)"],"range":["#000000","#4a62ea"]}}}}
]}
